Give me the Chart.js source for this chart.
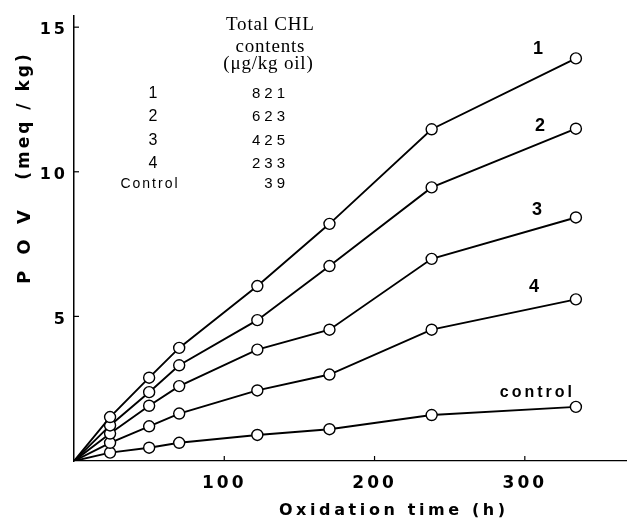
<!DOCTYPE html>
<html><head><meta charset="utf-8">
<script src="https://cdn.jsdelivr.net/npm/chart.js@4.4.0/dist/chart.umd.min.js"></script>
<style>html,body{margin:0;padding:0;background:#fff}#wrap{width:627px;height:519px}</style>
</head><body><div id="wrap"><canvas id="c" width="627" height="519"></canvas></div>
<script>
// ---- data ----
const hours = [0, 24, 50, 70, 122, 170, 238, 334];
const pov1 = [0, 1.52, 2.88, 3.91, 6.05, 8.20, 11.47, 13.92];
const pov2 = [0, 1.23, 2.38, 3.31, 4.87, 6.74, 9.46, 11.49];
const pov3 = [0, 0.95, 1.91, 2.59, 3.85, 4.54, 6.99, 8.42];
const pov4 = [0, 0.63, 1.20, 1.64, 2.44, 2.99, 4.54, 5.59];
const povControl = [0, 0.29, 0.46, 0.63, 0.90, 1.10, 1.59, 1.87];
const seriesNames = ['1', '2', '3', '4', 'control'];
const legendIds = ['1', '2', '3', '4', 'Control'];
const chlContents = ['821', '623', '425', '233', '39'];
const legendTitle = ['Total CHL', 'contents', '(μg/kg oil)'];
const xTickValues = [100, 200, 300];
const yTickValues = [5, 10, 15];
const xTitle = 'Oxidation time (h)';
const yTitleMain = 'POV';
const yTitleUnit = '(meq / kg)';

// ---- styling ----
const seriesData = [pov1, pov2, pov3, pov4, povControl];
const labelOffsets = [[-38, -9], [-36, -3], [-39, -7], [-42, -12], [-40, -14]];

const datasets = seriesData.map((vals, i) => ({
  label: seriesNames[i],
  data: hours.map((h, j) => ({x: h, y: vals[j]})),
  borderColor: '#000',
  borderWidth: 1.9,
  pointRadius: hours.map((h, j) => j === 0 ? 0 : 5.5),
  pointBackgroundColor: '#fff',
  pointBorderColor: '#000',
  pointBorderWidth: 1.4,
  tension: 0,
  fill: false
}));

function txt(ctx, s, x, y, font, align, spacing, baseline) {
  ctx.save();
  ctx.font = font;
  ctx.fillStyle = '#000';
  ctx.letterSpacing = (spacing || 0) + 'px';
  ctx.textAlign = align || 'center';
  ctx.textBaseline = baseline || 'alphabetic';
  let dx = 0;
  if (spacing) {
    if (align === 'center' || !align) dx = spacing / 2;
    else if (align === 'right') dx = spacing;
  }
  ctx.fillText(s, x + dx, y);
  ctx.restore();
}

const decor = {
  id: 'decor',
  beforeDraw(chart) {
    chart.ctx.letterSpacing = '3px';
  },
  afterDatasetsDraw(chart) {
    const ctx = chart.ctx;
    const xs = chart.scales.x, ys = chart.scales.y;
    const ca = chart.chartArea;
    // inward tick marks
    ctx.save();
    ctx.strokeStyle = '#000';
    ctx.lineWidth = 1.2;
    yTickValues.forEach(v => {
      const py = ys.getPixelForValue(v);
      ctx.beginPath(); ctx.moveTo(ca.left, py); ctx.lineTo(ca.left + 5, py); ctx.stroke();
    });
    xTickValues.forEach(v => {
      const px = xs.getPixelForValue(v);
      ctx.beginPath(); ctx.moveTo(px, ca.bottom); ctx.lineTo(px, ca.bottom - 5); ctx.stroke();
    });
    ctx.restore();
    // series labels next to last points
    chart.data.datasets.forEach((ds, i) => {
      const pts = chart.getDatasetMeta(i).data;
      const p = pts[pts.length - 1];
      const o = labelOffsets[i];
      const isCtrl = i === 4;
      txt(ctx, ds.label, p.x + o[0], p.y + o[1],
        isCtrl ? 'bold 16px "Liberation Sans"' : 'bold 18px "Liberation Sans"',
        'center', isCtrl ? 3 : 0, 'middle');
    });
    // legend table
    const serif = '19px "Liberation Serif"';
    txt(ctx, legendTitle[0], 270, 30, serif, 'center', 0.8);
    txt(ctx, legendTitle[1], 270, 52, serif, 'center', 0.8);
    txt(ctx, legendTitle[2], 268, 69, serif, 'center', 0.8);
    const rowY = [94, 117, 141, 164, 184];
    legendIds.forEach((id, i) => {
      if (i === 4) txt(ctx, id, 149, rowY[i], '14px "Liberation Sans"', 'center', 2, 'middle');
      else txt(ctx, id, 153, rowY[i], '16px "Liberation Sans"', 'center', 0, 'middle');
      txt(ctx, chlContents[i], 285, rowY[i], '15px "Liberation Sans"', 'right', 4, 'middle');
    });
    // axis titles
    txt(ctx, xTitle, 392, 515, 'bold 16px "DejaVu Sans"', 'center', 3.6);
    ctx.save();
    ctx.translate(25, 0);
    ctx.rotate(-Math.PI / 2);
    txt(ctx, yTitleMain, -247, 0, 'bold 18px "DejaVu Sans"', 'center', 16, 'middle');
    txt(ctx, yTitleUnit, -117, 0, 'bold 17px "DejaVu Sans"', 'center', 3, 'middle');
    ctx.restore();
  }
};

new Chart(document.getElementById('c'), {
  type: 'line',
  data: {datasets},
  options: {
    responsive: false,
    animation: false,
    devicePixelRatio: 1,
    layout: {padding: {top: 13, right: 0, left: 0, bottom: 0}, autoPadding: false},
    plugins: {legend: {display: false}, tooltip: {enabled: false}, title: {display: false}},
    scales: {
      x: {
        type: 'linear', min: 0, max: 368,
        afterFit(s) { s.height = 58; },
        afterBuildTicks(s) { s.ticks = [0].concat(xTickValues).map(v => ({value: v})); },
        grid: {display: false, drawTicks: false},
        border: {display: true, color: '#000', width: 1.2},
        ticks: {
          autoSkip: false, maxRotation: 0, padding: 12,
          color: '#000', font: {family: 'DejaVu Sans', size: 17, weight: 'bold'},
          callback: v => xTickValues.includes(v) ? String(v) : ''
        }
      },
      y: {
        type: 'linear', min: 0, max: 15.4,
        afterFit(s) { s.width = 74; },
        afterBuildTicks(s) { s.ticks = [0].concat(yTickValues).map(v => ({value: v})); },
        grid: {display: false, drawTicks: false},
        border: {display: true, color: '#000', width: 1.5},
        ticks: {
          autoSkip: false, padding: 6, labelOffset: 3,
          color: '#000', font: {family: 'DejaVu Sans', size: 16, weight: 'bold'},
          callback: v => yTickValues.includes(v) ? String(v) : ''
        }
      }
    }
  },
  plugins: [decor]
});
</script>
</body></html>
